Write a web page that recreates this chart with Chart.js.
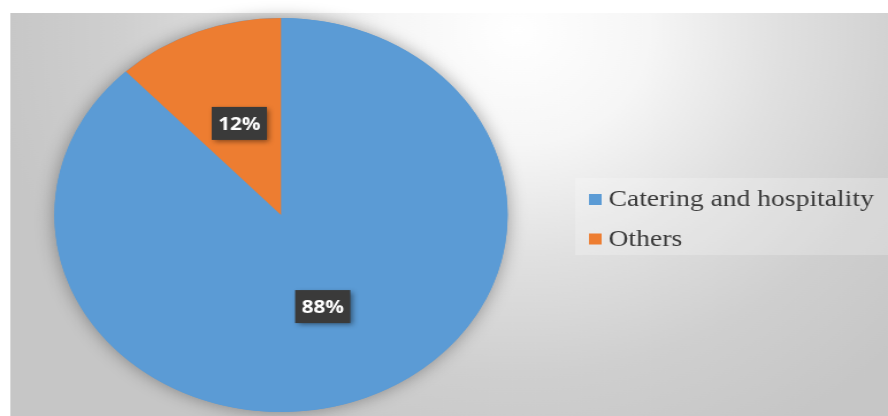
<!DOCTYPE html>
<html>
<head>
<meta charset="utf-8">
<script src="https://cdn.jsdelivr.net/npm/chart.js@4/dist/chart.umd.min.js"></script>
<style>
  html, body { margin: 0; padding: 0; background: #ffffff; overflow: hidden; }
  #wrap { position: absolute; left: 0; top: 0; width: 772px; height: 416px; transform: scaleX(1.1503); transform-origin: 0 0; }
  canvas { display: block; }
</style>
</head>
<body>
<div id="wrap"><canvas id="c" width="772" height="416" style="width:772px;height:416px"></canvas></div>
<script>
const categories = ["Catering and hospitality", "Others"];
const shares = [88, 12];
const sliceColors = ["#5B9BD5", "#ED7D31"];

const backgroundPlugin = {
  id: 'bg',
  beforeDraw(chart) {
    const ctx = chart.ctx;
    ctx.save();
    ctx.fillStyle = '#ffffff';
    ctx.fillRect(0, 0, chart.width, chart.height);
    const g = ctx.createRadialGradient(450, 30, 0, 450, 30, 460);
    g.addColorStop(0, '#ffffff');
    g.addColorStop(0.25, '#f6f6f6');
    g.addColorStop(0.5, '#e0e0e0');
    g.addColorStop(0.75, '#cfcfcf');
    g.addColorStop(1, '#c6c6c6');
    ctx.fillStyle = g;
    ctx.fillRect(9, 13, chart.width - 9, chart.height - 13);
    // legend panel
    ctx.fillStyle = 'rgba(255,255,255,0.22)';
    ctx.fillRect(500, 178, chart.width - 500, 77);
    ctx.restore();
  },
  beforeDatasetsDraw(chart) {
    const meta = chart.getDatasetMeta(0);
    const a = meta.data[0];
    if (!a) return;
    const ctx = chart.ctx;
    ctx.save();
    ctx.shadowColor = 'rgba(0,0,0,0.35)';
    ctx.shadowBlur = 16;
    ctx.fillStyle = sliceColors[0];
    ctx.beginPath();
    ctx.arc(a.x, a.y, a.outerRadius, 0, Math.PI * 2);
    ctx.fill();
    ctx.restore();
  },
  afterDatasetsDraw(chart) {
    const ctx = chart.ctx;
    const meta = chart.getDatasetMeta(0);
    meta.data.forEach((arc, i) => {
      const p = arc.tooltipPosition();
      const w = 48, h = 33;
      ctx.save();
      ctx.shadowColor = 'rgba(0,0,0,0.45)';
      ctx.shadowBlur = 5;
      ctx.shadowOffsetX = 2;
      ctx.shadowOffsetY = 2;
      ctx.fillStyle = '#3a3a3a';
      ctx.fillRect(p.x - w / 2, p.y - h / 2, w, h);
      ctx.restore();
      ctx.save();
      ctx.fillStyle = '#ffffff';
      ctx.font = 'bold 18px "Open Sans", sans-serif';
      ctx.textAlign = 'center';
      ctx.textBaseline = 'middle';
      ctx.fillText(shares[i] + '%', p.x, p.y + 1);
      ctx.restore();
    });
    // legend
    ctx.save();
    ctx.font = '24px "Liberation Serif", "Times New Roman", serif';
    ctx.textBaseline = 'alphabetic';
    ctx.textAlign = 'left';
    categories.forEach((label, i) => {
      const base = 206 + i * 39.5;
      ctx.fillStyle = sliceColors[i];
      ctx.fillRect(512, base - 12, 11, 11);
      ctx.fillStyle = '#3a3a3a';
      ctx.fillText(label, 529, base);
    });
    ctx.restore();
  }
};

new Chart(document.getElementById('c'), {
  type: 'pie',
  data: {
    labels: categories,
    datasets: [{
      data: shares,
      backgroundColor: sliceColors,
      borderWidth: 0,
      hoverBorderWidth: 0,
      hoverOffset: 0,
      radius: 197
    }]
  },
  options: {
    responsive: false,
    animation: false,
    layout: { padding: { left: 0, top: 18, bottom: 4, right: 283.4 } },
    plugins: {
      legend: { display: false },
      tooltip: { enabled: false }
    }
  },
  plugins: [backgroundPlugin]
});
</script>
</body>
</html>
